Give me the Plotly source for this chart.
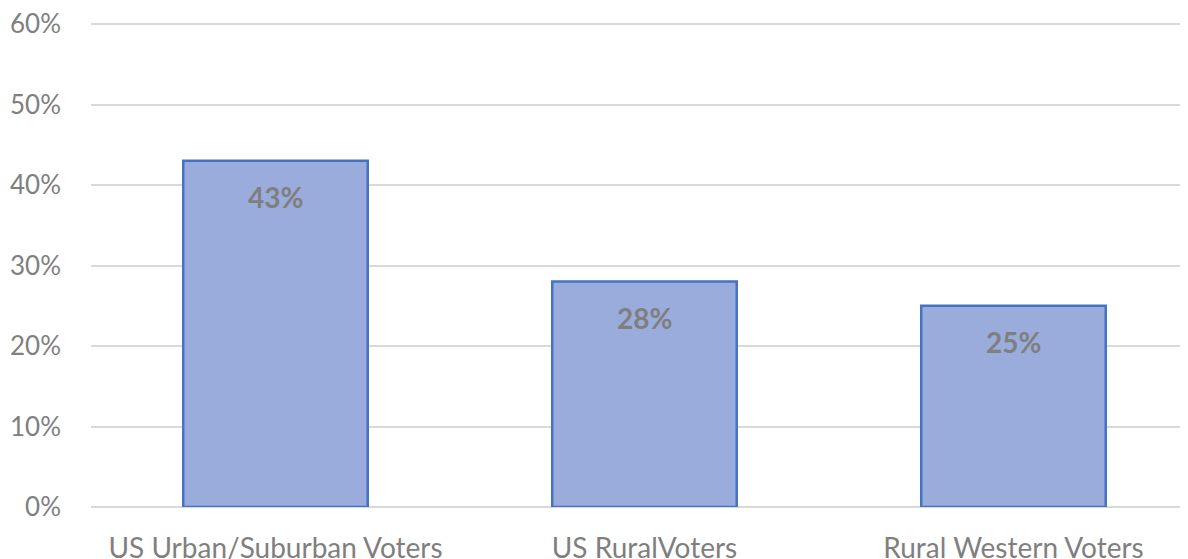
import plotly.graph_objects as go

categories = ["US Urban/Suburban Voters", "US RuralVoters", "Rural Western Voters"]
values = [0.43, 0.28, 0.25]
labels = ["43%", "28%", "25%"]
y_ticks = [0, 0.1, 0.2, 0.3, 0.4, 0.5, 0.6]
y_tick_text = ["0%", "10%", "20%", "30%", "40%", "50%", "60%"]

fig = go.Figure()

fig.add_trace(go.Bar(
    x=categories,
    y=values,
    width=0.5,
    marker=dict(color='#9aacdc', line=dict(color='#4472c4', width=2.5)),
    hoverinfo='skip',
))

# etiquettes de valeur dans la barre
for cat, val, lab in zip(categories, values, labels):
    fig.add_annotation(
        x=cat, y=val, text=lab, showarrow=False, yshift=-36,
        font=dict(family='Lato', size=28, color='#7f7f7f', weight='bold'),
    )

# la page ajoute 8px de marge autour du graphique
fig.update_layout(
    width=1180, height=551,
    margin=dict(l=83, r=0, t=12, b=52),
    plot_bgcolor='white', paper_bgcolor='white',
    showlegend=False,
    font=dict(family='Lato', color='#7f7f7f'),
    xaxis=dict(
        range=[-0.5, 2.473],
        automargin=False,
        showgrid=False, showline=False, zeroline=False,
        tickfont=dict(size=28, color='#7f7f7f'),
        ticklabelstandoff=22,
        ticklabeloverflow='allow',
    ),
    yaxis=dict(
        range=[0, 0.605],
        automargin=False,
        tickvals=y_ticks, ticktext=y_tick_text,
        showgrid=True, gridcolor='#d9d9d9', gridwidth=2,
        zeroline=True, zerolinecolor='#d9d9d9', zerolinewidth=2,
        showline=False,
        tickfont=dict(size=26, color='#7f7f7f'),
        ticklabelstandoff=29,
        ticklabeloverflow='allow',
    ),
)

fig.write_html("out.html")
